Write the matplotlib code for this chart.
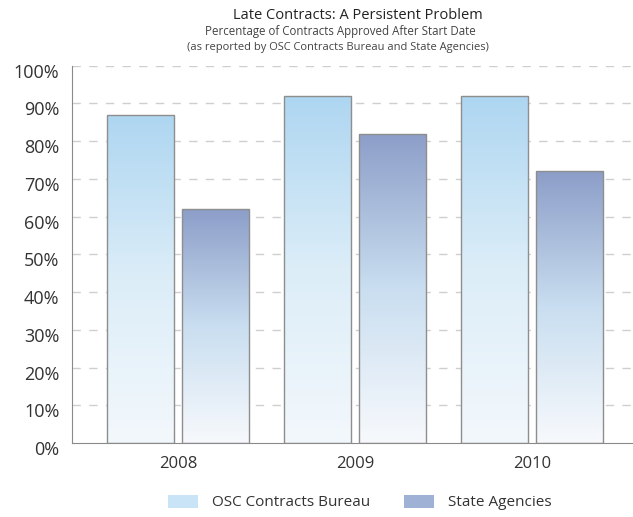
import numpy as np
import matplotlib.pyplot as plt
from matplotlib.colors import LinearSegmentedColormap
from matplotlib.patches import Patch
from matplotlib.transforms import ScaledTranslation

years = ['2008', '2009', '2010']
osc_bureau = [87, 92, 92]
state_agencies = [62, 82, 72]
series_names = ['OSC Contracts Bureau', 'State Agencies']

plt.rcParams['font.family'] = ['Open Sans', 'DejaVu Sans']

osc_cmap = LinearSegmentedColormap.from_list(
    'osc', ['#f3f8fc', '#dcedf8', '#aed6f1'])
state_cmap = LinearSegmentedColormap.from_list(
    'state', ['#f7f9fc', '#c9def0', '#8c9ec8'])

fig = plt.figure(figsize=(6.33, 5.17), dpi=100)
ax = fig.add_axes([0.1137, 0.143, 0.9, 0.73])

x = np.arange(len(years))
width = 0.38
gap = 0.045

grad = np.linspace(0, 1, 256).reshape(-1, 1)


def gradient_bars(xs, vals, cmap):
    bars = ax.bar(xs, vals, width, color='none', edgecolor='#8e8e8e',
                  linewidth=1.0, zorder=3)
    for b in bars:
        x0, y0 = b.get_x(), b.get_y()
        w, h = b.get_width(), b.get_height()
        im = ax.imshow(grad, cmap=cmap, origin='lower', aspect='auto',
                       extent=[x0, x0 + w, y0, y0 + h], zorder=2)
        im.set_clip_path(b)
    return bars


gradient_bars(x - width / 2 - gap / 2, osc_bureau, osc_cmap)
gradient_bars(x + width / 2 + gap / 2, state_agencies, state_cmap)

ax.set_xlim(-0.6, 2.62)
ax.set_ylim(0, 100)
ax.set_yticks(np.arange(0, 101, 10))
ax.set_yticklabels([f'{v}%' for v in range(0, 101, 10)], fontsize=13,
                   color='#333333')
ax.set_xticks(x)
ax.set_xticklabels(years, fontsize=12, color='#333333')
ax.tick_params(axis='x', length=0, pad=9)
ax.tick_params(axis='y', length=0, pad=9)
# labels sit a little below their gridlines in the original
for lab in ax.get_yticklabels():
    lab.set_transform(lab.get_transform() +
                      ScaledTranslation(0, -0.05, fig.dpi_scale_trans))

for yv in range(10, 101, 10):
    ax.axhline(yv, color='#cfcfcf', lw=1.0, ls=(0, (6, 6)), zorder=1)

for s in ['top', 'right']:
    ax.spines[s].set_visible(False)
ax.spines['left'].set_color('#8a8a8a')
ax.spines['bottom'].set_color('#8a8a8a')

fig.text(0.566, 0.963, 'Late Contracts: A Persistent Problem',
         ha='center', fontsize=10.5, color='#222222')
fig.text(0.538, 0.932, 'Percentage of Contracts Approved After Start Date',
         ha='center', fontsize=8.3, color='#444444')
fig.text(0.534, 0.903, '(as reported by OSC Contracts Bureau and State Agencies)',
         ha='center', fontsize=8, color='#444444')

handles = [Patch(facecolor='#c8e4f6', edgecolor='none'),
           Patch(facecolor='#9fb1d4', edgecolor='none')]
fig.legend(handles, series_names, loc='lower center',
           bbox_to_anchor=(0.568, -0.014), ncol=2, frameon=False,
           fontsize=11, handlelength=2.0, handleheight=0.9,
           handletextpad=0.9, columnspacing=2.2, labelcolor='#333333')

fig.savefig('out.png', dpi=100)
